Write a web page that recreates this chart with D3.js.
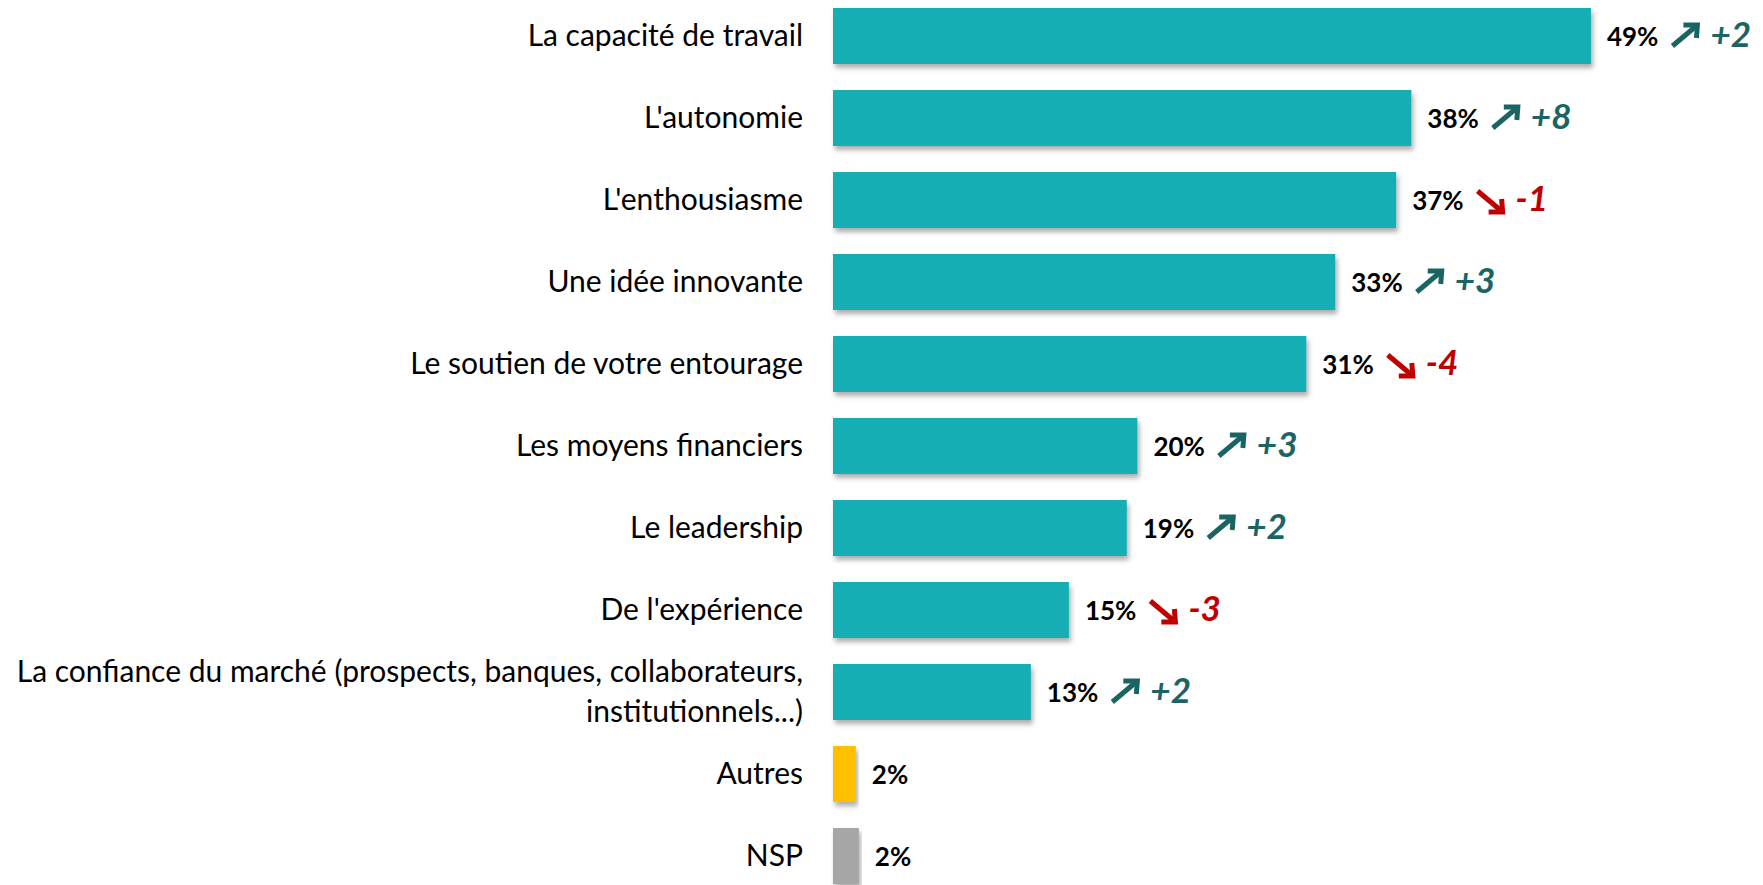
<!DOCTYPE html>
<html>
<head>
<meta charset="utf-8">
<script src="https://cdn.jsdelivr.net/npm/d3@7"></script>
<style>
  html, body { margin: 0; padding: 0; background: #ffffff; }
  svg { display: block; }
</style>
</head>
<body>
<svg id="chart" width="1763" height="885"></svg>
<script>
// ---- DATA ----
const categories = [
  "La capacité de travail",
  "L'autonomie",
  "L'enthousiasme",
  "Une idée innovante",
  "Le soutien de votre entourage",
  "Les moyens financiers",
  "Le leadership",
  "De l'expérience",
  "La confiance du marché (prospects, banques, collaborateurs,|institutionnels...)",
  "Autres",
  "NSP"
];
const values = [49.8, 38, 37, 33, 31.1, 20, 19.3, 15.5, 13, 1.5, 1.7];
const valueLabels = ["49%", "38%", "37%", "33%", "31%", "20%", "19%", "15%", "13%", "2%", "2%"];
const deltas = [2, 8, -1, 3, -4, 3, 2, -3, 2, null, null];
const barKinds = ["main", "main", "main", "main", "main", "main", "main", "main", "main", "other", "nsp"];

// ---- STYLE ----
const colors = { main: "#14AEB5", other: "#FFC000", nsp: "#A6A6A6" };
const upColor = "#1A6464";
const downColor = "#C00000";
const catFont = "Lato, 'Open Sans', sans-serif";

const svg = d3.select("#chart");
const defs = svg.append("defs");
const f = defs.append("filter").attr("id", "shadow")
  .attr("x", "-5%").attr("y", "-20%").attr("width", "115%").attr("height", "160%");
f.append("feDropShadow").attr("dx", 2).attr("dy", 4).attr("stdDeviation", 2.5)
  .attr("flood-color", "#000").attr("flood-opacity", 0.32);

const x = d3.scaleLinear().domain([0, 50]).range([833, 833 + 50 * 15.22]);
const pIn = 26 / 82;
const y = d3.scaleBand().domain(categories).range([36 - 41, 36 - 41 + 11 * 82])
  .paddingInner(pIn).paddingOuter(pIn / 2);

const rows = categories.map((c, i) => ({
  cat: c, v: values[i], lab: valueLabels[i], d: deltas[i], kind: barKinds[i]
}));

// bars
svg.append("g").selectAll("rect").data(rows).join("rect")
  .attr("x", x(0))
  .attr("y", d => y(d.cat))
  .attr("width", d => x(d.v) - x(0))
  .attr("height", y.bandwidth())
  .attr("fill", d => colors[d.kind])
  .attr("filter", "url(#shadow)");

// category labels
const catG = svg.append("g");
rows.forEach(d => {
  const cy = y(d.cat) + y.bandwidth() / 2;
  const lines = d.cat.split("|");
  const lh = 40;
  const t = catG.append("text")
    .attr("text-anchor", "end")
    .attr("font-family", catFont)
    .attr("font-size", 30)
    .attr("fill", "#000");
  lines.forEach((ln, k) => {
    t.append("tspan")
      .attr("x", 803)
      .attr("y", cy + 10 + (k - (lines.length - 1) / 2) * lh)
      .text(ln);
  });
});

// value labels + trends
const lg = svg.append("g");
rows.forEach(d => {
  const cy = y(d.cat) + y.bandwidth() / 2;
  const vt = lg.append("text")
    .attr("x", x(d.v) + 16)
    .attr("y", cy + 10)
    .attr("font-family", catFont)
    .attr("font-weight", 700)
    .attr("font-size", 26)
    .attr("fill", "#000")
    .text(d.lab);
  if (d.d === null) return;
  const up = d.d > 0;
  const col = up ? upColor : downColor;
  const ax = x(d.v) + 16 + vt.node().getComputedTextLength() + 13;
  const w = 27, h = 23;
  let shaft, head;
  if (up) {
    const ay = cy - 13;
    shaft = [[ax + 1, ay + h], [ax + w - 1, ay + 2]];
    head = [[ax + w - 15, ay + 2], [ax + w - 1, ay + 2], [ax + w - 2, ay + 15]];
  } else {
    const ay = cy - 10;
    shaft = [[ax + 1, ay + 1], [ax + w - 1, ay + h - 1]];
    head = [[ax + w - 15, ay + h - 1], [ax + w - 1, ay + h - 1], [ax + w - 2, ay + h - 14]];
  }
  const line = d3.line();
  lg.append("path").attr("d", line(shaft)).attr("stroke", col)
    .attr("stroke-width", 5).attr("fill", "none").attr("stroke-linecap", "butt");
  lg.append("path").attr("d", line(head)).attr("stroke", col)
    .attr("stroke-width", 5).attr("fill", "none").attr("stroke-linejoin", "miter");
  lg.append("text")
    .attr("x", ax + w + 12)
    .attr("y", cy + 11)
    .attr("font-family", catFont)
    .attr("font-weight", 700)
    .attr("font-style", "italic")
    .attr("font-size", 35)
    .attr("fill", col)
    .text((up ? "+" : "-") + Math.abs(d.d));
});
</script>
</body>
</html>
